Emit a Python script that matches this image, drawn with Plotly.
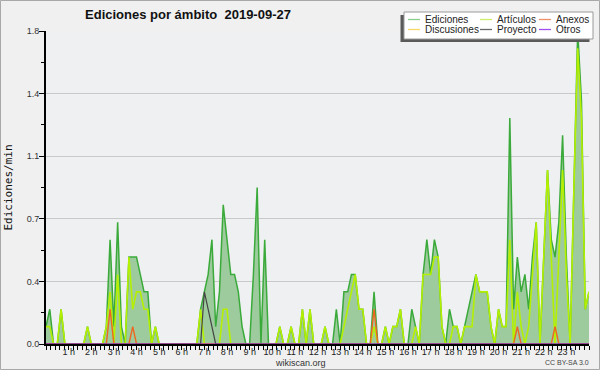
import plotly.graph_objects as go

# ---------------- data (10-minute bins, edits per minute) ----------------
minutes = list(range(0, 1441, 10))

ediciones = [
    0.1, 0.2, 0, 0, 0.2, 0, 0, 0, 0, 0,
    0, 0.1, 0, 0, 0, 0, 0.1, 0.6, 0.1, 0.7,
    0.1, 0, 0.5, 0.5, 0.5, 0.4, 0.3, 0.3, 0, 0.1,
    0, 0, 0, 0, 0, 0, 0, 0, 0, 0,
    0, 0.2, 0.3, 0.4, 0.6, 0.1, 0.3, 0.8, 0.6, 0.4,
    0.4, 0.3, 0.1, 0, 0, 0.4, 0.9, 0, 0.6, 0,
    0, 0, 0.1, 0, 0, 0.1, 0, 0, 0.2, 0,
    0.2, 0, 0, 0, 0.1, 0, 0, 0.2, 0, 0.3,
    0.3, 0.4, 0.4, 0.2, 0.2, 0, 0, 0.3, 0, 0,
    0.1, 0, 0.1, 0.1, 0.2, 0, 0, 0.2, 0.1, 0,
    0.4, 0.6, 0.4, 0.6, 0.5, 0.1, 0, 0.2, 0.1, 0.1,
    0, 0.1, 0.2, 0.3, 0.4, 0.3, 0.3, 0.3, 0.1, 0,
    0.2, 0.1, 0.1, 1.3, 0.2, 0.5, 0.3, 0.4, 0.2, 0.5,
    0.7, 0, 0.5, 1.0, 0.6, 0.5, 0.7, 1.2, 0.5, 0,
    0.9, 1.8, 1.4, 0.2, 0.3,
]

articulos = [
    0.1, 0.1, 0, 0, 0.2, 0, 0, 0, 0, 0,
    0, 0.1, 0, 0, 0, 0, 0.1, 0.3, 0, 0.4,
    0, 0, 0.5, 0.2, 0.3, 0.3, 0.2, 0.2, 0, 0.1,
    0, 0, 0, 0, 0, 0, 0, 0, 0, 0,
    0, 0.2, 0, 0, 0, 0, 0, 0.2, 0.2, 0,
    0, 0, 0, 0, 0, 0, 0, 0, 0, 0,
    0, 0, 0.1, 0, 0, 0.1, 0, 0, 0.2, 0,
    0.2, 0, 0, 0, 0.1, 0, 0, 0, 0, 0.1,
    0.2, 0.3, 0.4, 0.2, 0.2, 0, 0, 0.1, 0, 0,
    0.1, 0, 0.1, 0.1, 0.2, 0, 0, 0, 0.1, 0,
    0.4, 0.4, 0.4, 0.5, 0.5, 0.1, 0, 0, 0.1, 0.1,
    0, 0.1, 0.1, 0.1, 0.4, 0.3, 0.3, 0.3, 0.1, 0,
    0.2, 0.1, 0.1, 0.6, 0, 0.3, 0.1, 0, 0.1, 0.4,
    0.7, 0, 0.5, 1.0, 0.5, 0, 0.5, 1.0, 0.4, 0,
    0.9, 1.7, 1.3, 0.2, 0.3,
]

anexos = [0] * 145
for _i, _v in [(17, 0.2), (23, 0.1), (87, 0.2), (125, 0.1), (135, 0.1)]:
    anexos[_i] = _v

proyecto = [0] * 145
for _i, _v in [(42, 0.3), (43, 0.2), (44, 0.1)]:
    proyecto[_i] = _v

discusiones = [0] * 145
otros = [0] * 145

hour_vals = [60, 120, 180, 240, 300, 360, 420, 480, 540, 600, 660, 720,
             780, 840, 900, 960, 1020, 1080, 1140, 1200, 1260, 1320, 1380]
hour_labels = ["1 h", "2 h", "3 h", "4 h", "5 h", "6 h", "7 h", "8 h", "9 h",
               "10 h", "11 h", "12 h", "13 h", "14 h", "15 h", "16 h", "17 h",
               "18 h", "19 h", "20 h", "21 h", "22 h", "23 h"]

y_tickvals = [0, 0.36, 0.72, 1.08, 1.44, 1.8]
y_ticktext = ["0.0", "0.4", "0.7", "1.1", "1.4", "1.8"]
y_minorvals = [0.18, 0.54, 0.9, 1.26, 1.62]

legend_names = ["Ediciones", "Artículos", "Anexos", "Discusiones", "Proyecto", "Otros"]
legend_colors = ["#8ccc8c", "#cdee6a", "#f09068", "#f8d868", "#6a6a6a", "#a050f0"]

# ---------------- geometry helpers ----------------
W, H = 600, 370
L, R, T, B = 46, 11, 31, 26
PW, PH = W - L - R, H - T - B


def px(x):
    return (x - L) / PW


def py(y):
    return (H - B - y) / PH


FONT = "Liberation Sans, Arial, sans-serif"

fig = go.Figure()
fig.add_trace(go.Scatter(x=minutes, y=ediciones, mode="lines", name="Ediciones",
                         line=dict(color="#3aaa3a", width=1.5),
                         fill="tozeroy", fillcolor="#9ecb9e"))
fig.add_trace(go.Scatter(x=minutes, y=discusiones, mode="lines", name="Discusiones",
                         line=dict(color="#ffcc33", width=1.2)))
fig.add_trace(go.Scatter(x=minutes, y=articulos, mode="lines", name="Artículos",
                         line=dict(color="#b4f000", width=1.6)))
fig.add_trace(go.Scatter(x=minutes, y=anexos, mode="lines", name="Anexos",
                         line=dict(color="#ee6622", width=1.4)))
fig.add_trace(go.Scatter(x=minutes, y=proyecto, mode="lines", name="Proyecto",
                         line=dict(color="#444444", width=1.2)))
fig.add_trace(go.Scatter(x=minutes, y=otros, mode="lines", name="Otros",
                         line=dict(color="#9933ee", width=1.2)))

fig.update_layout(
    template="none",
    width=W, height=H,
    margin=dict(l=L, r=R, t=T, b=B),
    paper_bgcolor="#f0f0f0",
    plot_bgcolor="#eef0f2",
    showlegend=False,
    hovermode=False,
    font=dict(family=FONT, size=9, color="#222222"),
    title=dict(text="Ediciones por ámbito\u00a0\u00a02019-09-27",
               x=188 / W, xanchor="center", xref="container",
               y=1 - 14 / H, yanchor="middle", yref="container",
               font=dict(family=FONT, size=13, color="#111111", weight="bold")),
)

fig.update_xaxes(
    range=[0, 1440], tickmode="array", tickvals=hour_vals, ticktext=hour_labels,
    ticks="outside", ticklen=4, tickwidth=1, tickcolor="black",
    showline=True, linecolor="black", linewidth=2,
    showgrid=False, zeroline=False, automargin=False,
    tickfont=dict(family=FONT, size=9, color="#222222"),
    ticklabelstandoff=-6,
    minor=dict(tickmode="linear", tick0=0, dtick=12, ticks="outside",
               ticklen=4, tickwidth=1, tickcolor="black", showgrid=False),
)

fig.update_yaxes(
    range=[0, 1.8], tickmode="array", tickvals=y_tickvals, ticktext=y_ticktext,
    ticks="outside", ticklen=5, tickwidth=1, tickcolor="black",
    showline=True, linecolor="black", linewidth=2,
    showgrid=True, gridcolor="#c9c9c9", gridwidth=1, zeroline=False,
    automargin=False,
    tickfont=dict(family=FONT, size=9, color="#333333"),
    ticklabelstandoff=-2,
    minor=dict(tickmode="array", tickvals=y_minorvals, ticks="outside",
               ticklen=3, tickwidth=1, tickcolor="black", showgrid=False),
    title=dict(text="Ediciones/min", standoff=12,
               font=dict(family="DejaVu Sans Mono", size=11, color="#111111")),
)

# ---------------- outer border ----------------
fig.add_shape(type="rect", xref="paper", yref="paper", layer="below",
              x0=px(0.5), x1=px(599.5), y0=py(369.5), y1=py(0.5),
              line=dict(color="#a8a8a8", width=1), fillcolor="rgba(0,0,0,0)")

# ---------------- legend box (shadow + white box) ----------------
fig.add_shape(type="rect", xref="paper", yref="paper", layer="above",
              x0=px(400.5), x1=px(589.5), y0=py(42), y1=py(15),
              line=dict(width=0), fillcolor="#5a5a5a")
fig.add_shape(type="rect", xref="paper", yref="paper", layer="above",
              x0=px(404), x1=px(593), y0=py(39), y1=py(12),
              line=dict(color="#9a9a9a", width=1), fillcolor="#ffffff")

col_line_x = [408, 480, 539]
col_text_x = [423, 495, 554]
row_y = [19.5, 29.5]
for k, (name, col) in enumerate(zip(legend_names, legend_colors)):
    r, c = divmod(k, 3)
    fig.add_shape(type="line", xref="paper", yref="paper", layer="above",
                  x0=px(col_line_x[c]), x1=px(col_line_x[c] + 12),
                  y0=py(row_y[r]), y1=py(row_y[r]),
                  line=dict(color=col, width=1.3))
    fig.add_annotation(text=name, xref="paper", yref="paper",
                       x=px(col_text_x[c]), y=py(row_y[r]),
                       xanchor="left", yanchor="middle", showarrow=False,
                       font=dict(family=FONT, size=10, color="#222222"))

# ---------------- footer texts ----------------
fig.add_annotation(text="wikiscan.org", xref="paper", yref="paper",
                   x=px(300), y=py(362.5), xanchor="center", yanchor="middle",
                   showarrow=False, borderpad=0,
                   font=dict(family=FONT, size=9, color="#333333"))
fig.add_annotation(text="CC BY-SA 3.0", xref="paper", yref="paper",
                   x=px(590), y=py(362.5), xanchor="right", yanchor="middle",
                   showarrow=False, borderpad=0,
                   font=dict(family=FONT, size=7, color="#444444"))

fig.write_html("out.html",
               config={"displayModeBar": False, "staticPlot": True},
               post_script="document.body.style.margin='0';document.body.style.overflow='hidden';")
